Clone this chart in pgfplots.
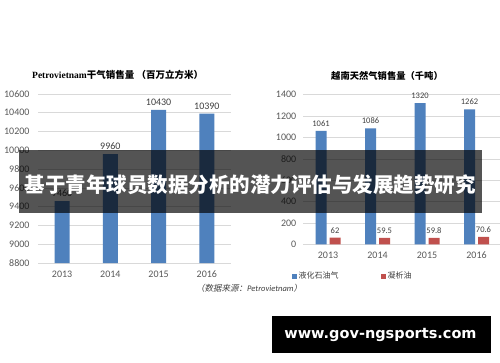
\documentclass[border=0pt]{standalone}
\usepackage{fontspec}
\usepackage{pgfplots}
\pgfplotsset{compat=1.18}
\setmainfont{Carlito}
\newfontfamily\cjk{Noto Sans CJK SC}
\newfontfamily\cjkit[FakeSlant=0.2]{Noto Sans CJK SC}
\newfontfamily\wm{DejaVu Sans}
\newfontfamily\serifp{Liberation Serif}
\definecolor{barblue}{RGB}{79,129,189}
\definecolor{barred}{RGB}{192,80,77}
\definecolor{gridc}{RGB}{217,217,217}
\definecolor{tickc}{RGB}{89,89,89}
\definecolor{labc}{RGB}{64,64,64}
\pgfplotsset{
  common/.style={
    anchor=south west, scale only axis,
    xmin=-0.5, xmax=3.5, xtick={0,1,2,3}, xticklabels={2013,2014,2015,2016},
    axis line style={draw=none}, major tick length=0pt,
    ymajorgrids, grid style={gridc, line width=0.6pt},
    scaled y ticks=false,
    tick label style={font=\fontsize{10}{12}\selectfont, text=tickc},
    /pgf/number format/assume math mode=true,
    /pgf/number format/1000 sep={},
    xticklabel style={yshift=-4pt},
  }
}
\begin{document}
\begin{tikzpicture}
\path[use as bounding box, fill=white] (0pt,0pt) rectangle (500pt,362pt);

% Left chart
\begin{axis}[common,
  at={(38pt,99pt)}, width=193pt, height=169pt,
  ymin=8800, ymax=10600, ytick={8800,9000,...,10600},
  yticklabel style={xshift=-5pt},
  ybar, bar width=15pt,
  nodes near coords,
  nodes near coords style={font=\fontsize{10}{12}\selectfont, text=labc, yshift=1pt},
]
\addplot[fill=barblue, draw=none] coordinates {(0,9460) (1,9960) (2,10430) (3,10390)};
\end{axis}

% Right chart
\begin{axis}[common,
  at={(303.25pt,117.7pt)}, width=198pt, height=149.6pt,
  ymin=0, ymax=1400, ytick={0,200,...,1400},
  yticklabel style={xshift=-3.5pt},
  ybar, bar width=11pt,
  nodes near coords,
  nodes near coords style={font=\fontsize{8.5}{10}\selectfont, text=labc, yshift=1pt},
  legend columns=2,
  legend style={at={(0.249,-0.212)}, anchor=center, draw=none, fill=none,
    font=\cjk\fontsize{8}{9}\selectfont, text=labc,
    /tikz/every even column/.append style={column sep=40pt}},
  legend image code/.code={\fill[#1] (0pt,-2.5pt) rectangle (5pt,2.5pt);},
]
\addplot[fill=barblue, draw=none, bar shift=-7pt] coordinates {(0,1061) (1,1086) (2,1320) (3,1262)};
\addlegendentry{液化石油气}
\addplot[fill=barred, draw=none, bar shift=7pt] coordinates {(0,62) (1,59.5) (2,59.8) (3,70.6)};
\addlegendentry{凝析油}
\end{axis}

% Titles
\node[anchor=west, inner sep=0pt, font=\fontsize{9.5}{11}\selectfont] at (32pt,287pt)
  {{\serifp\bfseries Petrovietnam}{\cjk\bfseries 干气销售量\ （百万立方米）}};
\node[inner sep=0pt, font=\cjk\bfseries\fontsize{9.3}{11}\selectfont] at (387pt,286pt)
  {越南天然气销售量（千吨）};
% Source
\node[anchor=west, inner sep=0pt, text=labc, font=\fontsize{8.5}{10}\selectfont] at (196pt,73.7pt)
  {{\cjkit （数据来源：}{\itshape Petrovietnam}{\cjkit ）}};

% Banner
\fill[black, opacity=0.67] (19.3pt,149.3pt) rectangle (481.7pt,212pt);
\node[text=white, inner sep=0pt, font=\cjk\bfseries\fontsize{20.5}{24}\selectfont] at (250pt,177pt)
  {基于青年球员数据分析的潜力评估与发展趋势研究};

% Watermark
\fill[black] (271.7pt,9.3pt) rectangle (490.7pt,46pt);
\node[text=white, inner sep=0pt, font=\wm\bfseries\fontsize{14.5}{17}\selectfont] at (380.5pt,27pt)
  {www.gov-ngsports.com};
\end{tikzpicture}
\end{document}
